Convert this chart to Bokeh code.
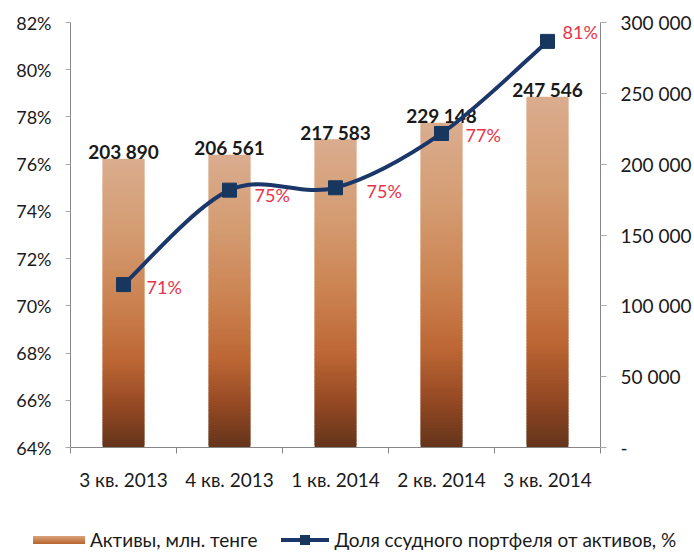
import numpy as np
from bokeh.plotting import figure
from bokeh.layouts import column
from bokeh.models import (Range1d, LinearAxis, FixedTicker, PrintfTickFormatter,
                          ColumnDataSource, Div)
from bokeh.core.properties import value
from bokeh.embed import file_html
from bokeh.resources import INLINE

# ---------------- data ----------------
categories = ["3 кв. 2013", "4 кв. 2013", "1 кв. 2014", "2 кв. 2014", "3 кв. 2014"]
assets = [203890, 206561, 217583, 229148, 247546]
asset_labels = ["203 890", "206 561", "217 583", "229 148", "247 546"]
loan_share = [70.9, 74.9, 75.0, 77.3, 81.2]
share_labels = ["71%", "75%", "75%", "77%", "81%"]
left_ticks = [64, 66, 68, 70, 72, 74, 76, 78, 80, 82]
right_ticks = [0, 50000, 100000, 150000, 200000, 250000, 300000]
right_tick_labels = ["-", "50 000", "100 000", "150 000", "200 000", "250 000", "300 000"]
legend_labels = ["Активы, млн. тенге", "Доля ссудного портфеля от активов, %"]

# ---------------- styles ----------------
FONT = "Lato"
share_dx = [23, 25, 31, 24, 15]
share_dy = [2, 5, 3, 2, -9]
grad_stops = [(0.0, (218, 172, 142)), (0.25, (212, 156, 114)), (0.5, (203, 130, 80)),
              (0.7, (188, 102, 52)), (0.85, (150, 74, 36)), (1.0, (100, 52, 27))]

def grad_color(t):
    for (t0, c0), (t1, c1) in zip(grad_stops[:-1], grad_stops[1:]):
        if t <= t1:
            f = (t - t0) / (t1 - t0)
            c = [round(a + (b - a) * f) for a, b in zip(c0, c1)]
            return "#%02x%02x%02x" % tuple(c)
    return "#%02x%02x%02x" % grad_stops[-1][1]

n = len(categories)
xc = [i + 0.5 for i in range(n)]

p = figure(width=694, height=500, output_backend="svg", toolbar_location=None,
           x_range=Range1d(0, n), y_range=Range1d(64, 82),
           min_border_left=70, min_border_right=93, min_border_top=22, min_border_bottom=53)
p.extra_y_ranges = {"assets": Range1d(0, 300000)}
p.grid.visible = False
p.outline_line_color = None
p.background_fill_color = "white"

# ---------------- bars with vertical gradient ----------------
N = 120
bx, btop, bbot, bcol = [], [], [], []
for i, v in enumerate(assets):
    for k in range(N):
        bx.append(xc[i])
        bbot.append(v * k / N)
        btop.append(min(v, v * (k + 1.8) / N))
        bcol.append(grad_color(1 - (k + 0.5) / N))
bar_src = ColumnDataSource(dict(x=bx, top=btop, bottom=bbot, color=bcol))
p.vbar(x="x", top="top", bottom="bottom", width=0.395, fill_color="color",
       line_color=None, source=bar_src, y_range_name="assets")

p.text(x=xc, y=assets, text=asset_labels, y_range_name="assets",
       text_align="center", text_baseline="alphabetic", y_offset=-7,
       text_font=value(FONT), text_font_style="bold", text_font_size="19px",
       text_color="#1a1a1a")

# ---------------- smoothed line ----------------
pts = list(zip(xc, loan_share))
x0s, y0s, x1s, y1s, cx0s, cy0s, cx1s, cy1s = ([] for _ in range(8))
for i in range(n - 1):
    pm = pts[max(i - 1, 0)]
    p0 = pts[i]
    p1 = pts[i + 1]
    p2 = pts[min(i + 2, n - 1)]
    x0s.append(p0[0]); y0s.append(p0[1])
    x1s.append(p1[0]); y1s.append(p1[1])
    cx0s.append(p0[0] + (p1[0] - pm[0]) / 6); cy0s.append(p0[1] + (p1[1] - pm[1]) / 6)
    cx1s.append(p1[0] - (p2[0] - p0[0]) / 6); cy1s.append(p1[1] - (p2[1] - p0[1]) / 6)
p.bezier(x0=x0s, y0=y0s, x1=x1s, y1=y1s, cx0=cx0s, cy0=cy0s, cx1=cx1s, cy1=cy1s,
         line_color="#1b3668", line_width=4)
p.scatter(x=xc, y=loan_share, marker="square", size=14,
          fill_color="#17375e", line_color="#17375e")

share_src = ColumnDataSource(dict(x=xc, y=loan_share, t=share_labels, dx=share_dx, dy=share_dy))
p.text(x="x", y="y", text="t", x_offset="dx", y_offset="dy", source=share_src,
       text_align="left", text_baseline="middle", text_font=value(FONT),
       text_font_size="18px", text_color="#e8334a")

# ---------------- axes ----------------
AX = "#868686"
ya = p.yaxis[0]
ya.ticker = FixedTicker(ticks=left_ticks)
ya.formatter = PrintfTickFormatter(format="%d%%")
ya.axis_line_color = AX
ya.major_tick_line_color = "#aaaaaa"
ya.major_tick_out = 5
ya.major_tick_in = 0
ya.minor_tick_line_color = None
ya.major_label_standoff = 14
ya.major_label_text_font = FONT
ya.major_label_text_font_size = "18px"
ya.major_label_text_color = "#1a1a1a"

ra = LinearAxis(y_range_name="assets", ticker=FixedTicker(ticks=right_ticks),
                major_label_overrides=dict(zip(right_ticks, right_tick_labels)))
ra.axis_line_color = AX
ra.major_tick_line_color = "#aaaaaa"
ra.major_tick_out = 6
ra.major_tick_in = 0
ra.minor_tick_line_color = None
ra.major_label_standoff = 14
ra.major_label_text_font = FONT
ra.major_label_text_font_size = "19px"
ra.major_label_text_color = "#1a1a1a"
p.add_layout(ra, "right")

xa = p.xaxis[0]
xa.ticker = FixedTicker(ticks=xc, minor_ticks=list(range(n + 1)))
xa.major_label_overrides = {x: c for x, c in zip(xc, categories)}
xa.axis_line_color = AX
xa.major_tick_out = 0
xa.major_tick_in = 0
xa.minor_tick_out = 6
xa.minor_tick_in = 0
xa.minor_tick_line_color = AX
xa.major_label_standoff = 14
xa.major_label_text_font = FONT
xa.major_label_text_font_size = "19px"
xa.major_label_text_color = "#1a1a1a"

# ---------------- legend strip (HTML) ----------------
legend_html = f"""
<div style="box-sizing:border-box;width:694px;height:54px;padding:26px 0 0 33px;
            display:flex;align-items:center;white-space:nowrap;
            font-family:Lato;font-size:19px;color:#1a1a1a;">
  <span style="display:inline-block;width:52px;height:8px;margin-right:5px;
               background:linear-gradient(to bottom,#d9a47a,#b8652f);"></span>
  <span>{legend_labels[0]}</span>
  <span style="display:inline-block;position:relative;width:48px;height:14px;margin-left:24px;margin-right:5px;">
    <span style="position:absolute;left:0;right:0;top:5px;height:4px;background:#1b3668;"></span>
    <span style="position:absolute;left:19px;top:2px;width:10px;height:10px;background:#17375e;"></span>
  </span>
  <span>{legend_labels[1]}</span>
</div>
"""
legend_div = Div(text=legend_html, width=694, height=54, margin=(0, 0, 0, 0))

open("out.html", "w").write(file_html(column(p, legend_div, spacing=0), INLINE))
